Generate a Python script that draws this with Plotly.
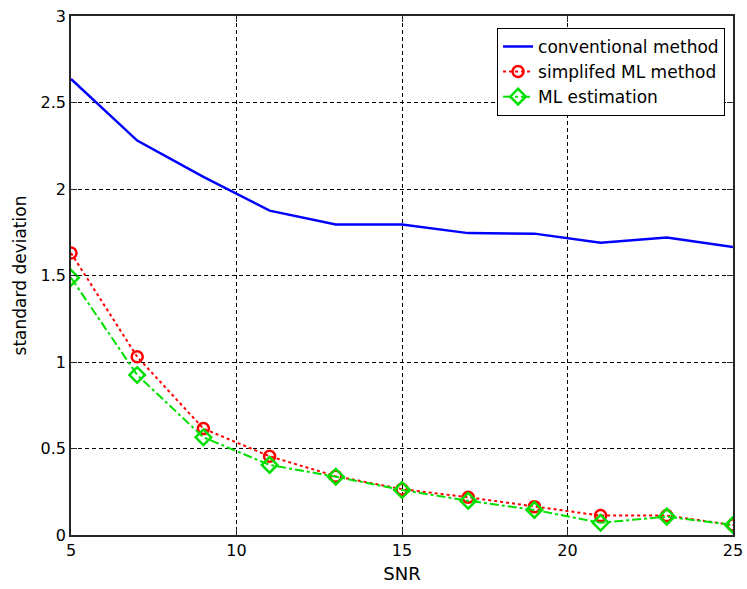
import plotly.graph_objects as go

snr = [5, 7, 9, 11, 13, 15, 17, 19, 21, 23, 25]
conventional = [2.636, 2.28, 2.07, 1.875, 1.795, 1.795, 1.745, 1.742, 1.69, 1.72, 1.665]
simplified_ml = [1.63, 1.03, 0.615, 0.455, 0.34, 0.265, 0.218, 0.164, 0.112, 0.112, 0.058]
ml_estimation = [1.487, 0.925, 0.565, 0.405, 0.337, 0.26, 0.198, 0.145, 0.071, 0.106, 0.058]

x_ticks = [5, 10, 15, 20, 25]
y_ticks = [0, 0.5, 1, 1.5, 2, 2.5, 3]
y_ticklabels = ["0", "0.5", "1", "1.5", "2", "2.5", "3"]

FONT = "DejaVu Sans, sans-serif"

fig = go.Figure()
fig.add_trace(go.Scatter(
    x=snr, y=conventional, mode="lines", name="conventional method",
    line=dict(color="#0000ff", width=2.5)))
fig.add_trace(go.Scatter(
    x=snr, y=simplified_ml, mode="lines+markers", name="simplifed ML method",
    line=dict(color="#ff0000", width=2, dash="dot"),
    marker=dict(symbol="circle-open", size=11, color="#ff0000", line=dict(width=2.5))))
fig.add_trace(go.Scatter(
    x=snr, y=ml_estimation, mode="lines+markers", name="ML estimation",
    line=dict(color="#00e000", width=2, dash="dashdot"),
    marker=dict(symbol="diamond-open", size=12, color="#00e000", line=dict(width=2.5))))

axis_common = dict(
    showline=True, linecolor="#262626", linewidth=1.5, mirror="ticks",
    ticks="inside", ticklen=6, tickcolor="#262626",
    showgrid=True, gridcolor="#000000", griddash="4px,3px", gridwidth=1,
    zeroline=False, automargin=False,
    tickfont=dict(family=FONT, size=16, color="#000000"),
)

fig.update_xaxes(range=[5, 25], tickvals=x_ticks,
                 title=dict(text="SNR", font=dict(family=FONT, size=18, color="#000000"), standoff=8),
                 **axis_common)
fig.update_yaxes(range=[0, 3], tickvals=y_ticks, ticktext=y_ticklabels,
                 title=dict(text="standard deviation", font=dict(family=FONT, size=17, color="#000000"), standoff=10),
                 **axis_common)

fig.update_layout(
    width=747, height=589,
    margin=dict(l=71, r=14, t=16, b=54),
    plot_bgcolor="#ffffff", paper_bgcolor="#ffffff",
    font=dict(family=FONT, size=16, color="#000000"),
    legend=dict(x=0.988, y=0.977, xanchor="right", yanchor="top",
                bgcolor="#ffffff", bordercolor="#000000", borderwidth=1,
                font=dict(family=FONT, size=17, color="#000000"),
                tracegroupgap=0, itemwidth=30),
    showlegend=True,
)

fig.write_html("out.html")
